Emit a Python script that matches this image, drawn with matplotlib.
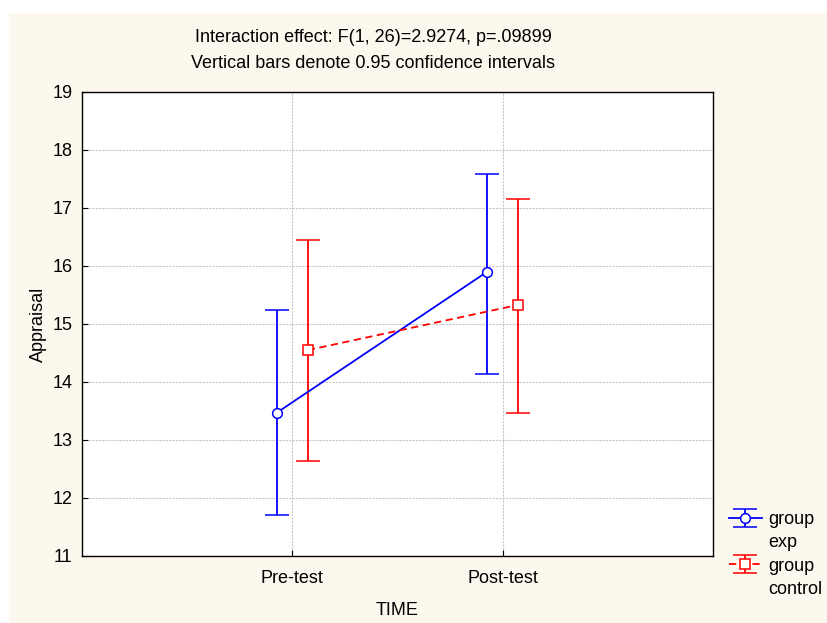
import matplotlib
matplotlib.use("Agg")
import matplotlib.pyplot as plt
from matplotlib.patches import Rectangle
from matplotlib.lines import Line2D
import numpy as np

plt.rcParams["font.family"] = ["Liberation Sans", "DejaVu Sans"]

times = ["Pre-test", "Post-test"]
exp_mean = [13.47, 15.90]
exp_low = [11.71, 14.14]
exp_high = [15.25, 17.59]
ctrl_mean = [14.55, 15.33]
ctrl_low = [12.64, 13.47]
ctrl_high = [16.45, 17.16]

FS = 13

fig = plt.figure(figsize=(8.27, 6.23), dpi=100, facecolor="white")
# cream panel behind the chart
fig.patches.append(Rectangle((9 / 827, 0), 1, 1 - 13 / 623, transform=fig.transFigure,
                             facecolor="#FDF8EE", edgecolor="none", zorder=-5))

ax = fig.add_axes([82 / 827, 1 - 556 / 623, (713 - 82) / 827, (556 - 92) / 623])
ax.set_facecolor("white")

x = np.arange(len(times))
off = 0.074

def draw(xpos, mean, low, high, color, marker, ls):
    yerr = [np.array(mean) - np.array(low), np.array(high) - np.array(mean)]
    return ax.errorbar(xpos, mean, yerr=yerr, color=color, ecolor=color, linestyle=ls,
                       marker=marker, markersize=7, markerfacecolor="white",
                       markeredgecolor=color, markeredgewidth=1.1, capsize=8.5,
                       elinewidth=1.3, capthick=1.3, linewidth=1.3,
                       dashes=(4, 2.5) if ls == "--" else (None, None), zorder=3)

h_exp = draw(x - off, exp_mean, exp_low, exp_high, "#0000FF", "o", "-")
h_ctrl = draw(x + off, ctrl_mean, ctrl_low, ctrl_high, "#FF0000", "s", "--")

ax.set_xlim(-1, 2)
ax.set_ylim(11, 19)
ax.set_xticks(x)
ax.set_xticklabels(times)
ax.set_yticks(range(11, 20))
ax.grid(True, color="#C8C8C8", linestyle=(0, (2, 1)), linewidth=0.8)
ax.set_axisbelow(True)
ax.tick_params(direction="in", length=4, labelsize=FS, color="black")
ax.tick_params(axis="x", pad=10)
ax.tick_params(axis="y", pad=7)
for s in ax.spines.values():
    s.set_linewidth(1.0)
    s.set_color("black")

ax.set_xlabel("TIME", fontsize=FS, labelpad=11)
ax.set_ylabel("Appraisal", fontsize=FS, labelpad=4)

fig.text(373 / 827, 1 - 38 / 623, "Interaction effect: F(1, 26)=2.9274, p=.09899",
         ha="center", va="center", fontsize=FS)
fig.text(373 / 827, 1 - 64 / 623, "Vertical bars denote 0.95 confidence intervals",
         ha="center", va="center", fontsize=FS)

blank = Line2D([], [], color="none")
ax.legend([h_exp, blank, h_ctrl, blank], ["group", "exp", "group", "control"],
          loc="upper left", bbox_to_anchor=(729 / 827, 1 - 511 / 623),
          bbox_transform=fig.transFigure, frameon=False, fontsize=FS,
          handlelength=1.8, handletextpad=0.35, labelspacing=0.35, borderaxespad=0,
          borderpad=0)

fig.savefig("out.png", dpi=100, facecolor="white")
